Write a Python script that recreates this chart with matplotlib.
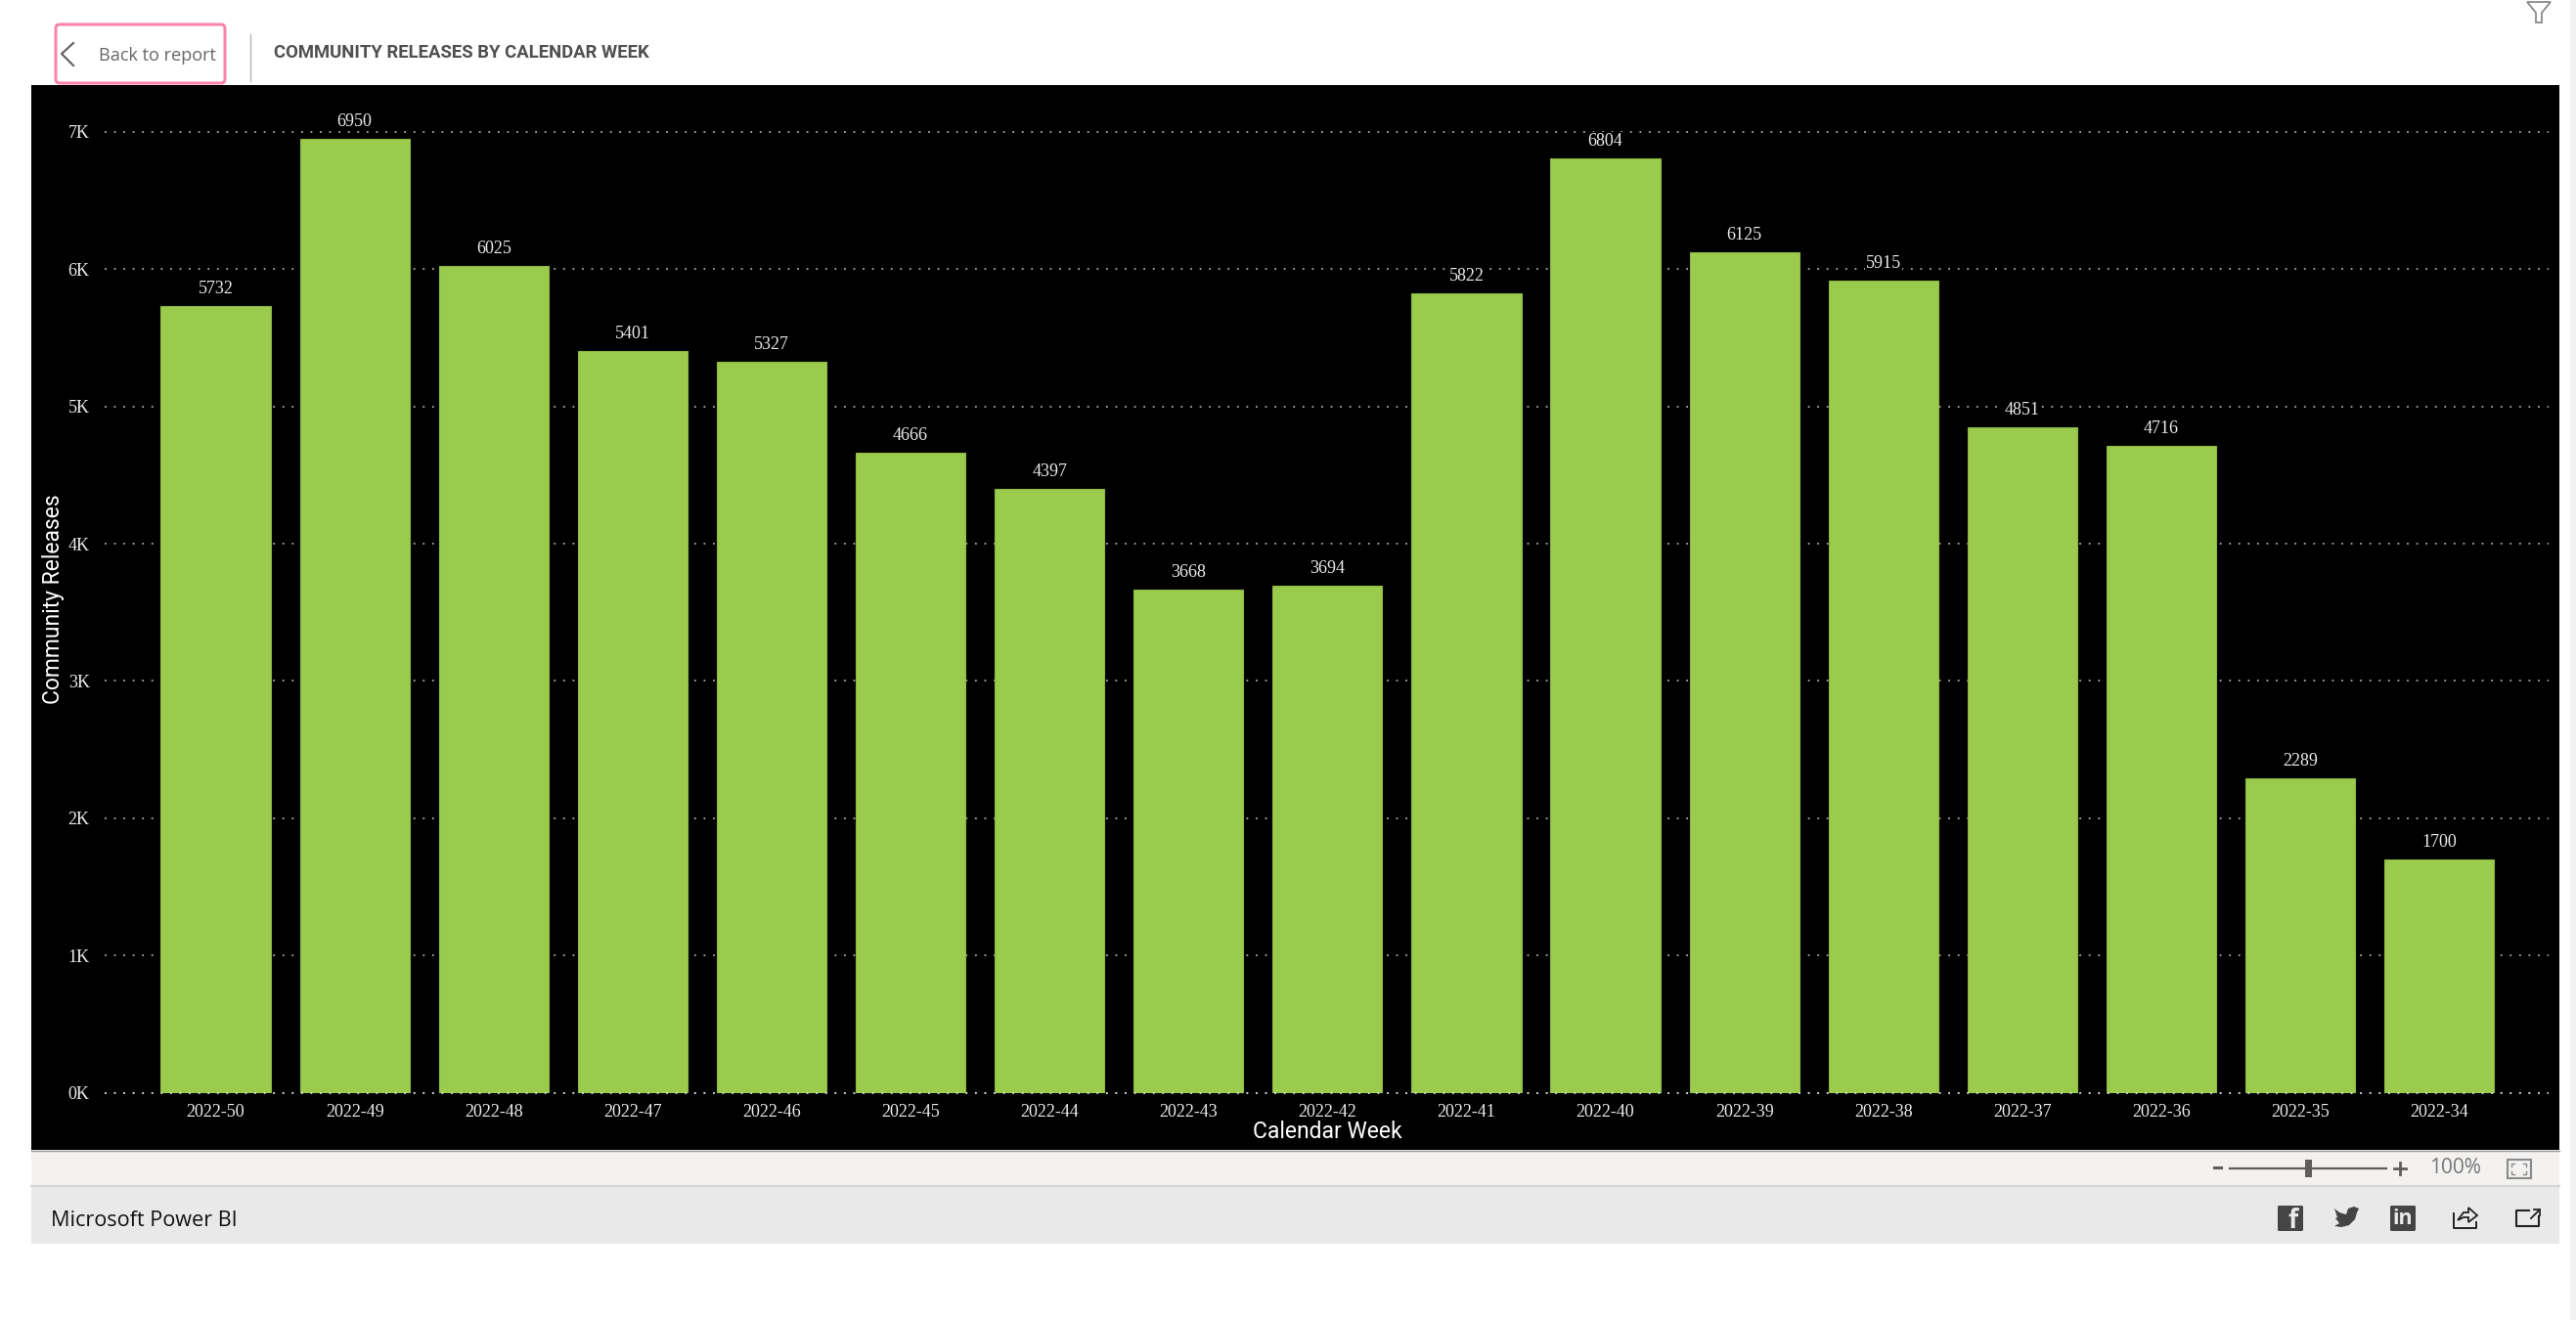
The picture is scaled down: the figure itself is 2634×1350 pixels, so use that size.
import matplotlib
matplotlib.use("Agg")
import matplotlib.pyplot as plt
from matplotlib.patches import Rectangle, FancyBboxPatch, Polygon

# data
weeks = ["2022-50", "2022-49", "2022-48", "2022-47", "2022-46", "2022-45", "2022-44", "2022-43", "2022-42",
         "2022-41", "2022-40", "2022-39", "2022-38", "2022-37", "2022-36", "2022-35", "2022-34"]
releases = [5732, 6950, 6025, 5401, 5327, 4666, 4397, 3668, 3694, 5822, 6804, 6125, 5915, 4851, 4716, 2289, 1700]
y_ticks = [0, 1000, 2000, 3000, 4000, 5000, 6000, 7000]
y_tick_labels = ["0K", "1K", "2K", "3K", "4K", "5K", "6K", "7K"]

W, H = 2634, 1350
GREEN = "#9bcb4d"
fig = plt.figure(figsize=(W / 100, H / 100), dpi=100, facecolor="white")

# overlay in pixel coordinates for the report page around the chart
page = fig.add_axes([0, 0, 1, 1])
page.set_xlim(0, W)
page.set_ylim(H, 0)
page.axis("off")

page.add_patch(Rectangle((32, 87), 2585, 1089, fc="black", ec="none"))
page.add_patch(Rectangle((32, 1176), 2585, 37, fc="#f3f2f1", ec="none"))
page.add_patch(Rectangle((32, 1213), 2585, 59, fc="#e9e9e9", ec="none"))
page.plot([32, 2617], [1176.5, 1176.5], color="#9a9a9a", lw=1)
page.plot([32, 2617], [1213, 1213], color="#d4d4d4", lw=1.5)
page.add_patch(Rectangle((2628, 0), 6, H, fc="#f1f1f1", ec="none"))

# back button and title
page.add_patch(FancyBboxPatch((57, 25), 173, 60, boxstyle="round,pad=0,rounding_size=4",
                              fc="white", ec="#fb84ad", lw=2.2))
page.plot([75, 63, 75], [44, 55, 67], color="#605e5c", lw=1.5)
page.text(101, 57, "Back to report", family="Open Sans", fontsize=13.1, color="#666666", va="center")
page.plot([255.5, 255.5], [35, 83], color="#b5b5b5", lw=1)
page.text(280, 54, "COMMUNITY RELEASES BY CALENDAR WEEK", family="Roboto", weight="bold", fontsize=13.3,
          color="#505050", va="center")

# filter icon
page.add_patch(Polygon([(2584, 2), (2608, 2), (2599, 13), (2599, 23), (2593, 23), (2593, 13)], closed=True,
                       fc="white", ec="#8a8a8a", lw=1.3))

# zoom controls
page.plot([2264, 2271], [1194, 1194], color="#605e5c", lw=2.2)
page.plot([2280, 2440], [1195, 1195], color="#605e5c", lw=1.6)
page.add_patch(Rectangle((2357, 1186), 6.5, 18, fc="#605e5c", ec="none"))
page.plot([2448, 2460], [1195, 1195], color="#605e5c", lw=2)
page.plot([2454, 2454], [1189, 1201], color="#605e5c", lw=2)
page.text(2510, 1195, "100%", family="Open Sans", fontsize=15, color="#777777", ha="center", va="center")
page.add_patch(Rectangle((2563.5, 1186), 24.5, 19, fc="none", ec="#8a8a8a", lw=1.5))
for cx, cy, dx, dy in [(2568, 1190, 1, 1), (2583, 1190, -1, 1), (2568, 1201, 1, -1), (2583, 1201, -1, -1)]:
    page.plot([cx + 3 * dx, cx, cx], [cy, cy, cy + 3 * dy], color="#8a8a8a", lw=1)

# footer
page.text(52, 1248, "Microsoft Power BI", family="Open Sans", weight="medium", fontsize=15.6, color="#111111", va="center")
page.add_patch(FancyBboxPatch((2329, 1233), 26, 26, boxstyle="round,pad=0,rounding_size=1.5", fc="#454545", ec="none"))
page.text(2345, 1248, "f", family="Open Sans", weight="bold", fontsize=19, color="#e9e9e9", ha="center", va="center")
page.add_patch(Polygon([(2387, 1236), (2392, 1240), (2399, 1242), (2401, 1236), (2407, 1234), (2412, 1236),
                        (2410, 1240), (2408, 1247), (2402, 1253), (2394, 1255), (2387, 1254), (2392, 1251),
                        (2388, 1246), (2390, 1245)], closed=True, fc="#454545", ec="none"))
page.add_patch(FancyBboxPatch((2444, 1233), 26, 26, boxstyle="round,pad=0,rounding_size=1.5", fc="#454545", ec="none"))
page.text(2457, 1247, "in", family="Open Sans", weight="bold", fontsize=15.5, color="#e9e9e9", ha="center", va="center")
page.plot([2509, 2509, 2532, 2532], [1241, 1256, 1256, 1250], color="#222222", lw=1.4)
page.add_patch(Polygon([(2513, 1248), (2519, 1240), (2524, 1240), (2524, 1235), (2533, 1243), (2524, 1250),
                        (2524, 1245), (2519, 1245)], closed=True, fc="none", ec="#222222", lw=1.3))
page.plot([2586, 2573, 2573, 2596, 2596], [1238, 1238, 1254, 1254, 1244], color="#222222", lw=1.5)
page.plot([2588, 2597], [1246, 1237], color="#222222", lw=1.3)
page.plot([2591, 2597, 2597], [1237, 1237, 1243], color="#222222", lw=1.3)

# chart axes: 0K at y=1117.7, grid from x=107 to x=2606
ax = fig.add_axes([107 / W, 1 - 1117.7 / H, (2606 - 107) / W, (1117.7 - 87) / H])
ax.patch.set_alpha(0)
for s in ax.spines.values():
    s.set_visible(False)

x = list(range(len(weeks)))
ax.bar(x, releases, width=0.79, color=GREEN, edgecolor="#8db744", linewidth=0.8, zorder=2)
ax.set_xlim(-0.799, 16.787)
ax.set_ylim(0, 7341)

ax.set_yticks(y_ticks)
ax.set_yticklabels(y_tick_labels, family="Liberation Serif", fontsize=13, color="#ececec")
ax.set_xticks(x)
ax.set_xticklabels(weeks, family="Liberation Serif", fontsize=13, color="#ececec")
ax.tick_params(axis="both", length=0)
ax.tick_params(axis="y", pad=11)
ax.tick_params(axis="x", pad=8)
ax.grid(axis="y", color="#a8a8a8", linewidth=1.3, linestyle=(0, (1.0, 4.3)), zorder=1)
ax.set_axisbelow(True)
# the 0K dots run over the foot of the bars
ax.axhline(0, color="#e0e0e0", linewidth=1.3, linestyle=(0, (1.0, 4.3)), zorder=3, clip_on=False)

# labels knock out the grid dots behind them
for i, v in zip(x, releases):
    ax.annotate(str(v), (i, v), xytext=(0, 12.6), textcoords="offset points", ha="center", va="center",
                family="Liberation Serif", fontsize=13, color="#ececec", zorder=4,
                bbox=dict(fc="black", ec="none", pad=0.6))

page.text(1357, 1157, "Calendar Week", family="Roboto", fontsize=16.5, color="white", ha="center", va="center")
page.text(54, 613, "Community Releases", family="Roboto", fontsize=16.5, color="white", ha="center", va="center",
          rotation=90)

fig.savefig("out.png", dpi=100, facecolor="white")
